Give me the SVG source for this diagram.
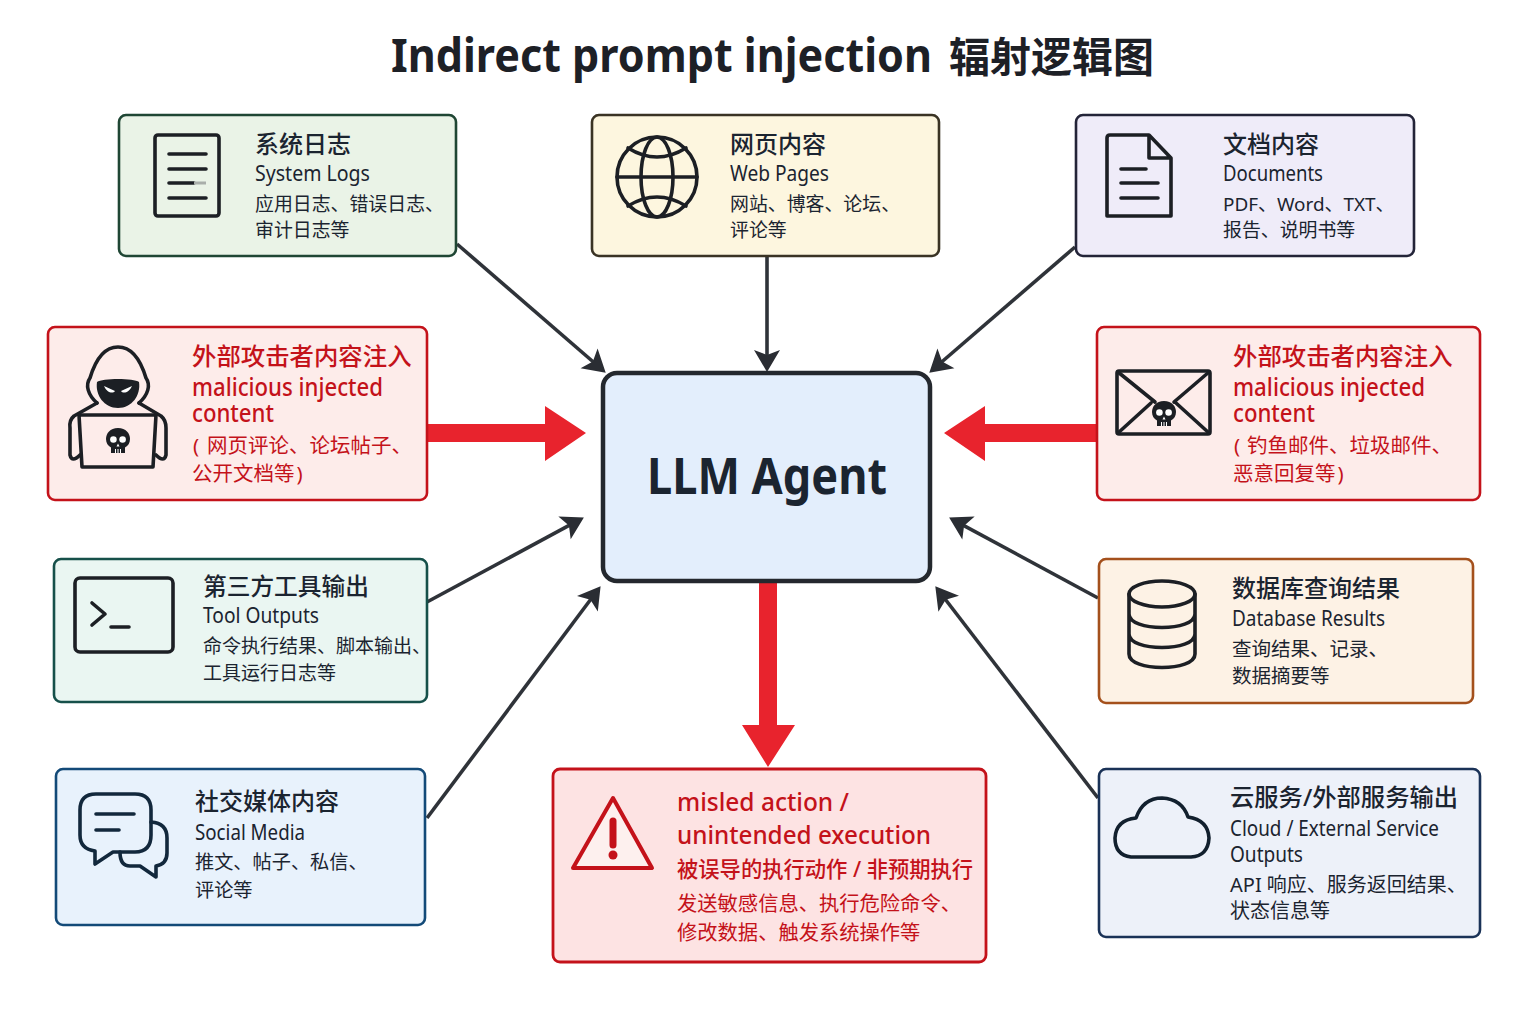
<svg xmlns="http://www.w3.org/2000/svg" width="1536" height="1024" viewBox="0 0 1536 1024">
<style>
text{font-family:"Noto Sans","Noto Sans CJK SC",sans-serif;fill:#1b2430}
.t{font-size:24px;font-weight:500}
.e{font-size:21px}
.d{font-size:18.900px}
.r text{fill:#c4121a}
.rt{font-size:24.400px;font-weight:500}
.re{font-size:25px;font-weight:500}
.rd{font-size:20.500px}
.box{stroke-width:2.600}
.ic{fill:none;stroke:#1c1f24;stroke-width:3.600;stroke-linecap:round;stroke-linejoin:round}
.ln{stroke:#2f3339;stroke-width:3.600;fill:none;marker-end:url(#head)}
.big{fill:#e8232d}
</style>
<defs>
<marker id="head" markerUnits="userSpaceOnUse" markerWidth="24" markerHeight="28" viewBox="0 0 24 28" refX="12" refY="14" orient="auto"><path d="M1 1L23 14L1 27L6 14Z" fill="#2a2d33"/></marker>
<g id="skull">
<path d="M0-13C-8-13-12-7.500-12-2C-12 2-10 5-7 6.500V12H7V6.500C10 5 12 2 12-2C12-7.500 8-13 0-13Z" fill="#1c1f24"/>
<circle cx="-4.600" cy="-1.500" r="3.300" fill="#fff"/><circle cx="4.600" cy="-1.500" r="3.300" fill="#fff"/>
<path d="M0 2.500L-1.500 5.500H1.500Z" fill="#fff"/>
<path d="M-2.500 8V12M0 8V12M2.500 8V12" stroke="#fff" stroke-width="1"/>
</g>
</defs>
<rect width="1536" height="1024" fill="#fff"/>
<text id="title" y="72" font-size="46" font-weight="700" style="fill:#1d2026"><tspan x="391" textLength="541" lengthAdjust="spacingAndGlyphs">Indirect prompt injection</tspan><tspan x="949" font-size="41">辐射逻辑图</tspan></text>

<g id="connectors">
<path class="ln" d="M457 244L597.400 365.500"/>
<path class="ln" d="M767 257V361"/>
<path class="ln" d="M1075 247L937.600 365.500"/>
<path class="ln" d="M427 602L574.200 522.700"/>
<path class="ln" d="M427 818L594 595"/>
<path class="ln" d="M1098 598L958.800 522.800"/>
<path class="ln" d="M1098 798L942 595"/>
<polygon class="big" points="427,424 545,424 545,406 586,433 545,461 545,442 427,442"/>
<polygon class="big" points="1097,424 985,424 985,406 944,433 985,461 985,442 1097,442"/>
<polygon class="big" points="759,582 777,582 777,725 795,725 768,767 742,725 759,725"/>
</g>

<g id="node-center"><rect x="603" y="373" width="327" height="208" rx="14" fill="#e3eefc" stroke="#24282e" stroke-width="4.500"/>
<text x="647" y="494" font-size="50" font-weight="700" textLength="240" lengthAdjust="spacingAndGlyphs" style="fill:#1b2430">LLM Agent</text></g>

<g id="node-logs"><rect class="box" x="119" y="115" width="337" height="141" rx="7" fill="#eaf3e7" stroke="#1f4634"/>
<rect class="ic" x="155" y="135" width="64" height="81" rx="3"/>
<path class="ic" d="M169 154H206M169 169H206M169 183H194M169 198H206"/><path d="M194 183H206" stroke="#a9aeaa" stroke-width="3"/>
<text class="t" x="255" y="153">系统日志</text><text class="e" x="255" y="181" textLength="115" lengthAdjust="spacingAndGlyphs">System Logs</text>
<text class="d" x="255" y="211">应用日志、错误日志、</text><text class="d" x="255" y="237">审计日志等</text></g>

<g id="node-web"><rect class="box" x="592" y="115" width="347" height="141" rx="7" fill="#fdf6df" stroke="#3a3324"/>
<g class="ic"><circle cx="657" cy="177" r="40"/><ellipse cx="657" cy="177" rx="16" ry="40"/><path d="M617 177H697M628 148Q657 166 686 148M628 206Q657 188 686 206"/></g>
<text class="t" x="730" y="153">网页内容</text><text class="e" x="730" y="181" textLength="99" lengthAdjust="spacingAndGlyphs">Web Pages</text>
<text class="d" x="730" y="211">网站、博客、论坛、</text><text class="d" x="730" y="237">评论等</text></g>

<g id="node-docs"><rect class="box" x="1076" y="115" width="338" height="141" rx="7" fill="#efecf9" stroke="#232438"/>
<path class="ic" d="M1110 135H1149L1171 158V216H1107V138Q1107 135 1110 135ZM1149 135V158H1171M1121 169H1146M1121 183H1158M1121 198H1158"/>
<text class="t" x="1223" y="153">文档内容</text><text class="e" x="1223" y="181" textLength="100" lengthAdjust="spacingAndGlyphs">Documents</text>
<text class="d" x="1223" y="211">PDF、Word、TXT、</text><text class="d" x="1223" y="237">报告、说明书等</text></g>

<g id="node-attack-left" class="r"><rect class="box" x="48" y="327" width="379" height="173" rx="7" fill="#fdecea" stroke="#c4121a"/>
<g class="ic"><path d="M97 403C88 395 85 385 90 378C93 368 100 347 118 347C136 347 143 368 146 378C151 385 148 395 139 403"/>
<path d="M97 403L74 416Q69 420 70 428V455Q72 463 80 455M139 403L161 416Q166 420 166 428V455Q164 463 156 455"/>
<path d="M79 415H156L153 467H82Z"/></g>
<path d="M97 382C102 378 134 378 139 382C141 395 132 408 118 408C104 408 95 395 97 382Z" fill="#1c1f24"/>
<path d="M104 386L115 391C113 394 107 393 104 386ZM132 386L121 391C123 394 129 393 132 386Z" fill="#fff"/>
<use href="#skull" x="118" y="441"/>
<text class="rt" x="192" y="365">外部攻击者内容注入</text>
<text class="re"><tspan x="192" y="396" textLength="191" lengthAdjust="spacingAndGlyphs">malicious injected</tspan> <tspan x="192" y="422" textLength="82" lengthAdjust="spacingAndGlyphs">content</tspan></text>
<text class="rd" y="453"><tspan x="193">(</tspan> <tspan x="207">网页评论、论坛帖子、</tspan></text><text class="rd" x="192" y="481">公开文档等<tspan dx="2">)</tspan></text></g>

<g id="node-attack-right" class="r"><rect class="box" x="1097" y="327" width="383" height="173" rx="7" fill="#fdecea" stroke="#c4121a"/>
<rect class="ic" x="1117" y="371" width="93" height="63" rx="2"/>
<path class="ic" d="M1118 372L1155 402M1209 372L1174 402M1118 433L1151 403M1209 433L1176 403"/>
<use href="#skull" x="1164" y="414"/>
<text class="rt" x="1233" y="365">外部攻击者内容注入</text>
<text class="re"><tspan x="1233" y="396" textLength="192" lengthAdjust="spacingAndGlyphs">malicious injected</tspan> <tspan x="1233" y="422" textLength="82" lengthAdjust="spacingAndGlyphs">content</tspan></text>
<text class="rd" y="453"><tspan x="1234">(</tspan> <tspan x="1247">钓鱼邮件、垃圾邮件、</tspan></text><text class="rd" x="1233" y="481">恶意回复等<tspan dx="2">)</tspan></text></g>

<g id="node-tools"><rect class="box" x="54" y="559" width="373" height="143" rx="7" fill="#eaf6f2" stroke="#16504a"/>
<rect class="ic" x="75" y="578" width="98" height="74" rx="5"/>
<path class="ic" d="M92 603L105 614L92 625M111 627H129"/>
<text class="t" x="203" y="595" style="font-size:23.700px">第三方工具输出</text><text class="e" x="203" y="623" textLength="116" lengthAdjust="spacingAndGlyphs">Tool Outputs</text>
<text class="d" x="203" y="653" style="font-size:19px">命令执行结果、脚本输出、</text><text class="d" x="203" y="680" style="font-size:19px">工具运行日志等</text></g>

<g id="node-db"><rect class="box" x="1099" y="559" width="374" height="144" rx="7" fill="#fdf2e5" stroke="#a4501c"/>
<g class="ic"><ellipse cx="1162" cy="594" rx="33" ry="13"/><path d="M1129 594V654C1129 672 1195 672 1195 654V594M1129 614C1129 632 1195 632 1195 614M1129 634C1129 652 1195 652 1195 634"/></g>
<text class="t" x="1232" y="597">数据库查询结果</text><text class="e" x="1232" y="626" textLength="153" lengthAdjust="spacingAndGlyphs">Database Results</text>
<text class="d" x="1232" y="656" style="font-size:19.500px">查询结果、记录、</text><text class="d" x="1232" y="683" style="font-size:19.500px">数据摘要等</text></g>

<g id="node-social"><rect class="box" x="56" y="769" width="369" height="156" rx="7" fill="#e8f2fc" stroke="#134a78"/>
<g class="ic" style="stroke:#12283c"><path d="M96 794H135Q151 794 151 810V835Q151 852 135 852H113L95 864V851Q80 849 80 835V810Q80 794 96 794Z"/><path d="M151 822Q167 823 167 838V853Q167 864 156 866V877L140 866H130Q120 866 120 852"/><path d="M96 814H134M96 830H119"/></g>
<text class="t" x="195" y="810">社交媒体内容</text><text class="e" x="195" y="840" textLength="110" lengthAdjust="spacingAndGlyphs">Social Media</text>
<text class="d" x="195" y="869" style="font-size:19.200px">推文、帖子、私信、</text><text class="d" x="195" y="897" style="font-size:19.200px">评论等</text></g>

<g id="node-result" class="r"><rect x="553" y="769" width="433" height="193" rx="7" fill="#fde3e3" stroke="#c4121a" stroke-width="2.800"/>
<path d="M613 798L652 868H573Z" fill="#fdf0ee" stroke="#c4121a" stroke-width="4" stroke-linejoin="round"/>
<path d="M613 821V845" stroke="#c4121a" stroke-width="7" stroke-linecap="round"/><circle cx="613" cy="855" r="4.500" fill="#c4121a"/>
<text class="re" x="677" y="811" textLength="172" lengthAdjust="spacingAndGlyphs">misled action /</text><text class="re" x="677" y="844" textLength="254" lengthAdjust="spacingAndGlyphs">unintended execution</text>
<text class="rt" x="677" y="877" style="font-size:21.300px">被误导的执行动作 / 非预期执行</text>
<text class="rd" x="677" y="911" style="font-size:20.300px">发送敏感信息、执行危险命令、</text><text class="rd" x="677" y="940" style="font-size:20.300px">修改数据、触发系统操作等</text></g>

<g id="node-cloud"><rect class="box" x="1099" y="769" width="381" height="168" rx="7" fill="#edf1f9" stroke="#1a3257"/>
<path class="ic" d="M1131 857Q1115 855 1115 838Q1116 820 1136 818Q1143 798 1162 798Q1182 799 1188 817Q1208 820 1209 838Q1208 856 1191 857Z" style="stroke:#12202e"/>
<text class="t" x="1230" y="806" style="font-size:24.300px">云服务/外部服务输出</text><text class="e" x="1230" y="836" textLength="209" lengthAdjust="spacingAndGlyphs">Cloud / External Service</text><text class="e" x="1230" y="862" textLength="73" lengthAdjust="spacingAndGlyphs">Outputs</text>
<text class="d" x="1230" y="892" style="font-size:20px">API 响应、服务返回结果、</text><text class="d" x="1230" y="918" style="font-size:20px">状态信息等</text></g>
</svg>
